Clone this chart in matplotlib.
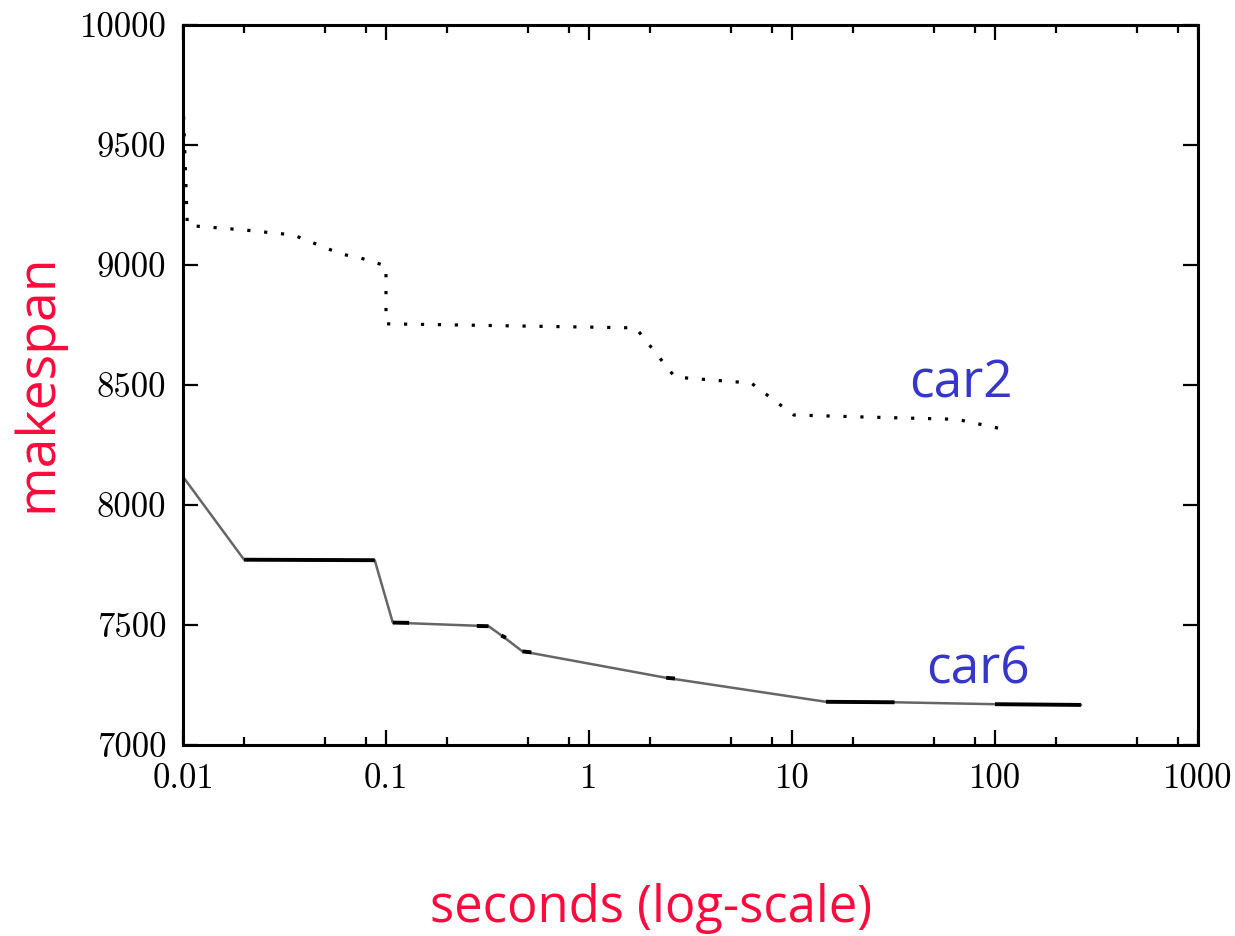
import matplotlib
matplotlib.use("Agg")
import matplotlib.pyplot as plt
from matplotlib.ticker import FixedLocator, LogLocator, NullFormatter

# car2 run (dotted)
car2_t = [0.01, 0.0105, 0.02, 0.035, 0.06, 0.075, 0.1, 0.1, 1.7, 2.65, 6.3, 10.2, 22, 65, 118]
car2_ms = [9690, 9165, 9146, 9125, 9046, 9029, 8996, 8755, 8738, 8533, 8508, 8375, 8367, 8357, 8310]

# car6 run (solid grey)
car6_t = [0.01, 0.02, 0.088, 0.108, 0.32, 0.38, 0.47, 2.4, 14.7, 32, 100, 265]
car6_ms = [8118, 7772, 7770, 7510, 7495, 7450, 7390, 7280, 7180, 7178, 7170, 7167]

# darker overlapping pieces of car6
car6_dark = [
    ([0.02, 0.088], [7772, 7770]),
    ([0.108, 0.13], [7510, 7509]),
    ([0.28, 0.32], [7496, 7495]),
    ([0.37, 0.39], [7456, 7447]),
    ([0.47, 0.52], [7390, 7386]),
    ([2.4, 2.65], [7280, 7277]),
    ([14.7, 32], [7180, 7178]),
    ([100, 265], [7170, 7167]),
]

x_ticks = [0.01, 0.1, 1, 10, 100, 1000]
x_labels = ["0.01", "0.1", "1", "10", "100", "1000"]
y_ticks = [7000, 7500, 8000, 8500, 9000, 9500, 10000]

RED = "#ff0a3c"
BLUE = "#3636cc"
W, H = 1235, 936

fig = plt.figure(figsize=(W / 100, H / 100), dpi=100)
ax = fig.add_axes([183 / W, 1 - 745 / H, (1198 - 183) / W, (745 - 25) / H])

ax.plot(car2_t, car2_ms, color="black", lw=2.3, linestyle=(0, (1, 4.3)),
        dash_capstyle="butt")
ax.plot(car6_t, car6_ms, color="#666666", lw=1.8)
for xs, ys in car6_dark:
    ax.plot(xs, ys, color="black", lw=2.8, solid_capstyle="butt")

ax.set_xscale("log")
ax.set_xlim(0.01, 1000)
ax.set_ylim(7000, 10000)

ax.xaxis.set_major_locator(FixedLocator(x_ticks))
ax.set_xticklabels(x_labels)
ax.xaxis.set_minor_locator(LogLocator(base=10, subs=[2, 5, 8]))
ax.xaxis.set_minor_formatter(NullFormatter())
ax.yaxis.set_major_locator(FixedLocator(y_ticks))

for s in ax.spines.values():
    s.set_linewidth(2.2)

ax.tick_params(which="major", direction="in", length=11, width=1.6,
               top=True, right=True, labelsize=25)
ax.tick_params(which="minor", direction="in", length=6, width=1.6,
               top=True, right=True)
ax.tick_params(axis="x", which="major", pad=13)
ax.tick_params(axis="y", which="major", pad=12)
for lab in ax.get_xticklabels() + ax.get_yticklabels():
    lab.set_fontfamily("cmr10")

fig.text(961 / W, 1 - 384 / H, "car2", color=BLUE, fontsize=37,
         family="Open Sans", ha="center", va="center")
fig.text(978 / W, 1 - 670 / H, "car6", color=BLUE, fontsize=37,
         family="Open Sans", ha="center", va="center")

fig.text(38 / W, 1 - 383 / H, "makespan", color=RED, fontsize=38.5,
         family="Open Sans", rotation=90, ha="center", va="center")
fig.text(651 / W, 1 - 908 / H, "seconds (log-scale)", color=RED, fontsize=36.5,
         family="Open Sans", ha="center", va="center")

fig.savefig("out.png", dpi=100)
